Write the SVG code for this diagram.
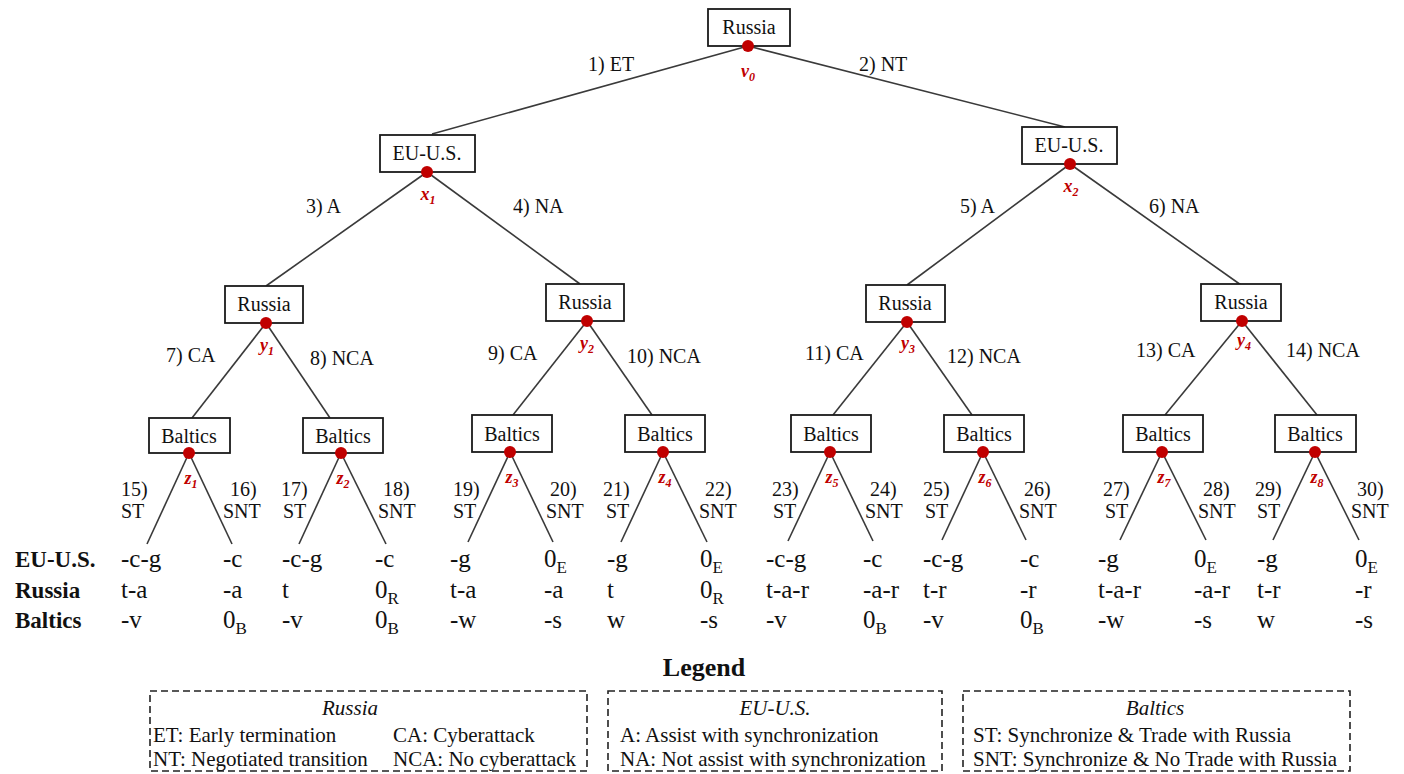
<svg xmlns="http://www.w3.org/2000/svg" width="1404" height="774" viewBox="0 0 1404 774">
<style>
.box{fill:#fff;stroke:#1a1a1a;stroke-width:1.8}
.nt{text-anchor:middle;fill:#111}
.dot{fill:#c00000}
.lab{font-style:italic;font-weight:bold;fill:#c00000;text-anchor:middle}
.edge{stroke:#3a3a3a;stroke-width:1.6;fill:none}
.legt{font-style:italic;text-anchor:middle}
.legbox{fill:none;stroke:#222;stroke-width:1.6;stroke-dasharray:7 4}
</style>
<rect width="1404" height="774" fill="#fff"/>
<g id="connectors">
<line class="edge" x1="748" y1="46" x2="432" y2="134"/>
<line class="edge" x1="748" y1="46" x2="1065" y2="127"/>
<line class="edge" x1="427" y1="172" x2="266" y2="286"/>
<line class="edge" x1="427" y1="172" x2="580" y2="284"/>
<line class="edge" x1="1070" y1="164" x2="907" y2="285"/>
<line class="edge" x1="1070" y1="164" x2="1241" y2="285"/>
<line class="edge" x1="266" y1="323" x2="192" y2="418"/>
<line class="edge" x1="266" y1="323" x2="330" y2="418"/>
<line class="edge" x1="587" y1="321" x2="513" y2="415"/>
<line class="edge" x1="587" y1="321" x2="652" y2="415"/>
<line class="edge" x1="907" y1="322" x2="833" y2="415"/>
<line class="edge" x1="907" y1="322" x2="972" y2="415"/>
<line class="edge" x1="1242" y1="321" x2="1165" y2="415"/>
<line class="edge" x1="1242" y1="321" x2="1317" y2="415"/>
<line class="edge" x1="189" y1="453" x2="147" y2="544"/>
<line class="edge" x1="189" y1="453" x2="232" y2="544"/>
<line class="edge" x1="341" y1="453" x2="299" y2="544"/>
<line class="edge" x1="341" y1="453" x2="386" y2="544"/>
<line class="edge" x1="510" y1="452" x2="468" y2="542"/>
<line class="edge" x1="510" y1="452" x2="553" y2="542"/>
<line class="edge" x1="663" y1="452" x2="621" y2="542"/>
<line class="edge" x1="663" y1="452" x2="707" y2="542"/>
<line class="edge" x1="830" y1="452" x2="788" y2="541"/>
<line class="edge" x1="830" y1="452" x2="873" y2="541"/>
<line class="edge" x1="983" y1="452" x2="942" y2="540"/>
<line class="edge" x1="983" y1="452" x2="1026" y2="540"/>
<line class="edge" x1="1162" y1="452" x2="1120" y2="540"/>
<line class="edge" x1="1162" y1="452" x2="1206" y2="540"/>
<line class="edge" x1="1315" y1="452" x2="1273" y2="540"/>
<line class="edge" x1="1315" y1="452" x2="1359" y2="540"/>
<text font-family="Liberation Serif" font-size="20" fill="#111" x="588" y="71">1) ET</text>
<text font-family="Liberation Serif" font-size="20" fill="#111" x="859" y="71">2) NT</text>
<text font-family="Liberation Serif" font-size="20" fill="#111" x="306" y="213">3) A</text>
<text font-family="Liberation Serif" font-size="20" fill="#111" x="513" y="213">4) NA</text>
<text font-family="Liberation Serif" font-size="20" fill="#111" x="960" y="213">5) A</text>
<text font-family="Liberation Serif" font-size="20" fill="#111" x="1149" y="213">6) NA</text>
<text font-family="Liberation Serif" font-size="20" fill="#111" x="166" y="362">7) CA</text>
<text font-family="Liberation Serif" font-size="20" fill="#111" x="310" y="365">8) NCA</text>
<text font-family="Liberation Serif" font-size="20" fill="#111" x="488" y="360">9) CA</text>
<text font-family="Liberation Serif" font-size="20" fill="#111" x="627" y="363">10) NCA</text>
<text font-family="Liberation Serif" font-size="20" fill="#111" x="805" y="360">11) CA</text>
<text font-family="Liberation Serif" font-size="20" fill="#111" x="947" y="363">12) NCA</text>
<text font-family="Liberation Serif" font-size="20" fill="#111" x="1136" y="357">13) CA</text>
<text font-family="Liberation Serif" font-size="20" fill="#111" x="1286" y="357">14) NCA</text>
<text font-family="Liberation Serif" font-size="20" fill="#111" x="121" y="496">15)</text><text font-family="Liberation Serif" font-size="20" fill="#111" x="121" y="518">ST</text>
<text font-family="Liberation Serif" font-size="20" fill="#111" x="230" y="496">16)</text><text font-family="Liberation Serif" font-size="20" fill="#111" x="223" y="518">SNT</text>
<text font-family="Liberation Serif" font-size="20" fill="#111" x="281" y="496">17)</text><text font-family="Liberation Serif" font-size="20" fill="#111" x="283" y="518">ST</text>
<text font-family="Liberation Serif" font-size="20" fill="#111" x="383" y="496">18)</text><text font-family="Liberation Serif" font-size="20" fill="#111" x="378" y="518">SNT</text>
<text font-family="Liberation Serif" font-size="20" fill="#111" x="453" y="496">19)</text><text font-family="Liberation Serif" font-size="20" fill="#111" x="453" y="518">ST</text>
<text font-family="Liberation Serif" font-size="20" fill="#111" x="550" y="496">20)</text><text font-family="Liberation Serif" font-size="20" fill="#111" x="546" y="518">SNT</text>
<text font-family="Liberation Serif" font-size="20" fill="#111" x="603" y="496">21)</text><text font-family="Liberation Serif" font-size="20" fill="#111" x="606" y="518">ST</text>
<text font-family="Liberation Serif" font-size="20" fill="#111" x="705" y="496">22)</text><text font-family="Liberation Serif" font-size="20" fill="#111" x="699" y="518">SNT</text>
<text font-family="Liberation Serif" font-size="20" fill="#111" x="772" y="496">23)</text><text font-family="Liberation Serif" font-size="20" fill="#111" x="773" y="518">ST</text>
<text font-family="Liberation Serif" font-size="20" fill="#111" x="870" y="496">24)</text><text font-family="Liberation Serif" font-size="20" fill="#111" x="865" y="518">SNT</text>
<text font-family="Liberation Serif" font-size="20" fill="#111" x="923" y="496">25)</text><text font-family="Liberation Serif" font-size="20" fill="#111" x="925" y="518">ST</text>
<text font-family="Liberation Serif" font-size="20" fill="#111" x="1024" y="496">26)</text><text font-family="Liberation Serif" font-size="20" fill="#111" x="1019" y="518">SNT</text>
<text font-family="Liberation Serif" font-size="20" fill="#111" x="1103" y="496">27)</text><text font-family="Liberation Serif" font-size="20" fill="#111" x="1105" y="518">ST</text>
<text font-family="Liberation Serif" font-size="20" fill="#111" x="1203" y="496">28)</text><text font-family="Liberation Serif" font-size="20" fill="#111" x="1198" y="518">SNT</text>
<text font-family="Liberation Serif" font-size="20" fill="#111" x="1255" y="496">29)</text><text font-family="Liberation Serif" font-size="20" fill="#111" x="1257" y="518">ST</text>
<text font-family="Liberation Serif" font-size="20" fill="#111" x="1357" y="496">30)</text><text font-family="Liberation Serif" font-size="20" fill="#111" x="1351" y="518">SNT</text>
</g>
<g id="node-v0"><rect class="box" x="708" y="9" width="82" height="37"/><text class="nt" font-family="Liberation Serif" font-size="20" x="749" y="34">Russia</text><circle class="dot" cx="748" cy="46" r="6"/><text class="lab" font-family="Liberation Serif" font-size="18" x="748" y="77">v<tspan font-size="12" dy="4">0</tspan></text></g>
<g id="node-x1"><rect class="box" x="380" y="135" width="95" height="37"/><text class="nt" font-family="Liberation Serif" font-size="20" x="427" y="160">EU-U.S.</text><circle class="dot" cx="427" cy="172" r="6"/><text class="lab" font-family="Liberation Serif" font-size="18" x="428" y="200">x<tspan font-size="12" dy="4">1</tspan></text></g>
<g id="node-x2"><rect class="box" x="1022" y="127" width="95" height="37"/><text class="nt" font-family="Liberation Serif" font-size="20" x="1069" y="152">EU-U.S.</text><circle class="dot" cx="1070" cy="164" r="6"/><text class="lab" font-family="Liberation Serif" font-size="18" x="1071" y="192">x<tspan font-size="12" dy="4">2</tspan></text></g>
<g id="node-y1"><rect class="box" x="225" y="286" width="78" height="37"/><text class="nt" font-family="Liberation Serif" font-size="20" x="264" y="311">Russia</text><circle class="dot" cx="266" cy="323" r="6"/><text class="lab" font-family="Liberation Serif" font-size="18" x="267" y="351">y<tspan font-size="12" dy="4">1</tspan></text></g>
<g id="node-y2"><rect class="box" x="546" y="284" width="78" height="37"/><text class="nt" font-family="Liberation Serif" font-size="20" x="585" y="309">Russia</text><circle class="dot" cx="587" cy="321" r="6"/><text class="lab" font-family="Liberation Serif" font-size="18" x="587" y="349">y<tspan font-size="12" dy="4">2</tspan></text></g>
<g id="node-y3"><rect class="box" x="866" y="285" width="79" height="37"/><text class="nt" font-family="Liberation Serif" font-size="20" x="905" y="310">Russia</text><circle class="dot" cx="907" cy="322" r="6"/><text class="lab" font-family="Liberation Serif" font-size="18" x="908" y="349">y<tspan font-size="12" dy="4">3</tspan></text></g>
<g id="node-y4"><rect class="box" x="1201" y="284" width="80" height="37"/><text class="nt" font-family="Liberation Serif" font-size="20" x="1241" y="309">Russia</text><circle class="dot" cx="1242" cy="321" r="6"/><text class="lab" font-family="Liberation Serif" font-size="18" x="1244" y="346">y<tspan font-size="12" dy="4">4</tspan></text></g>
<g id="node-z1"><rect class="box" x="149" y="418" width="81" height="35"/><text class="nt" font-family="Liberation Serif" font-size="20" x="189" y="443">Baltics</text><circle class="dot" cx="189" cy="453" r="6"/><text class="lab" font-family="Liberation Serif" font-size="18" x="191" y="484">z<tspan font-size="12" dy="4">1</tspan></text></g>
<g id="node-z2"><rect class="box" x="303" y="418" width="80" height="35"/><text class="nt" font-family="Liberation Serif" font-size="20" x="343" y="443">Baltics</text><circle class="dot" cx="341" cy="453" r="6"/><text class="lab" font-family="Liberation Serif" font-size="18" x="343" y="484">z<tspan font-size="12" dy="4">2</tspan></text></g>
<g id="node-z3"><rect class="box" x="472" y="415" width="80" height="37"/><text class="nt" font-family="Liberation Serif" font-size="20" x="512" y="441">Baltics</text><circle class="dot" cx="510" cy="452" r="6"/><text class="lab" font-family="Liberation Serif" font-size="18" x="512" y="483">z<tspan font-size="12" dy="4">3</tspan></text></g>
<g id="node-z4"><rect class="box" x="625" y="415" width="80" height="37"/><text class="nt" font-family="Liberation Serif" font-size="20" x="665" y="441">Baltics</text><circle class="dot" cx="663" cy="452" r="6"/><text class="lab" font-family="Liberation Serif" font-size="18" x="665" y="483">z<tspan font-size="12" dy="4">4</tspan></text></g>
<g id="node-z5"><rect class="box" x="791" y="415" width="80" height="37"/><text class="nt" font-family="Liberation Serif" font-size="20" x="831" y="441">Baltics</text><circle class="dot" cx="830" cy="452" r="6"/><text class="lab" font-family="Liberation Serif" font-size="18" x="832" y="483">z<tspan font-size="12" dy="4">5</tspan></text></g>
<g id="node-z6"><rect class="box" x="944" y="415" width="80" height="37"/><text class="nt" font-family="Liberation Serif" font-size="20" x="984" y="441">Baltics</text><circle class="dot" cx="983" cy="452" r="6"/><text class="lab" font-family="Liberation Serif" font-size="18" x="985" y="483">z<tspan font-size="12" dy="4">6</tspan></text></g>
<g id="node-z7"><rect class="box" x="1123" y="415" width="80" height="37"/><text class="nt" font-family="Liberation Serif" font-size="20" x="1163" y="441">Baltics</text><circle class="dot" cx="1162" cy="452" r="6"/><text class="lab" font-family="Liberation Serif" font-size="18" x="1164" y="483">z<tspan font-size="12" dy="4">7</tspan></text></g>
<g id="node-z8"><rect class="box" x="1275" y="415" width="81" height="37"/><text class="nt" font-family="Liberation Serif" font-size="20" x="1315" y="441">Baltics</text><circle class="dot" cx="1315" cy="452" r="6"/><text class="lab" font-family="Liberation Serif" font-size="18" x="1317" y="483">z<tspan font-size="12" dy="4">8</tspan></text></g>
<g id="payoff-rows">
<text font-family="Liberation Serif" font-size="23" font-weight="bold" fill="#111" x="15" y="567">EU-U.S.</text>
<text font-family="Liberation Serif" font-size="23" font-weight="bold" fill="#111" x="15" y="598">Russia</text>
<text font-family="Liberation Serif" font-size="23" font-weight="bold" fill="#111" x="15" y="628">Baltics</text>
</g>
<g id="payoffs" fill="#111">
<text font-family="Liberation Serif" font-size="25" x="121" y="567">-c-g</text><text font-family="Liberation Serif" font-size="25" x="121" y="598">t-a</text><text font-family="Liberation Serif" font-size="25" x="121" y="628">-v</text>
<text font-family="Liberation Serif" font-size="25" x="223" y="567">-c</text><text font-family="Liberation Serif" font-size="25" x="223" y="598">-a</text><text font-family="Liberation Serif" font-size="25" x="223" y="628">0<tspan font-size="17" dy="6">B</tspan></text>
<text font-family="Liberation Serif" font-size="25" x="282" y="567">-c-g</text><text font-family="Liberation Serif" font-size="25" x="282" y="598">t</text><text font-family="Liberation Serif" font-size="25" x="282" y="628">-v</text>
<text font-family="Liberation Serif" font-size="25" x="375" y="567">-c</text><text font-family="Liberation Serif" font-size="25" x="375" y="598">0<tspan font-size="17" dy="6">R</tspan></text><text font-family="Liberation Serif" font-size="25" x="375" y="628">0<tspan font-size="17" dy="6">B</tspan></text>
<text font-family="Liberation Serif" font-size="25" x="450" y="567">-g</text><text font-family="Liberation Serif" font-size="25" x="450" y="598">t-a</text><text font-family="Liberation Serif" font-size="25" x="450" y="628">-w</text>
<text font-family="Liberation Serif" font-size="25" x="544" y="567">0<tspan font-size="17" dy="6">E</tspan></text><text font-family="Liberation Serif" font-size="25" x="544" y="598">-a</text><text font-family="Liberation Serif" font-size="25" x="544" y="628">-s</text>
<text font-family="Liberation Serif" font-size="25" x="607" y="567">-g</text><text font-family="Liberation Serif" font-size="25" x="607" y="598">t</text><text font-family="Liberation Serif" font-size="25" x="607" y="628">w</text>
<text font-family="Liberation Serif" font-size="25" x="700" y="567">0<tspan font-size="17" dy="6">E</tspan></text><text font-family="Liberation Serif" font-size="25" x="700" y="598">0<tspan font-size="17" dy="6">R</tspan></text><text font-family="Liberation Serif" font-size="25" x="700" y="628">-s</text>
<text font-family="Liberation Serif" font-size="25" x="766" y="567">-c-g</text><text font-family="Liberation Serif" font-size="25" x="766" y="598">t-a-r</text><text font-family="Liberation Serif" font-size="25" x="766" y="628">-v</text>
<text font-family="Liberation Serif" font-size="25" x="863" y="567">-c</text><text font-family="Liberation Serif" font-size="25" x="863" y="598">-a-r</text><text font-family="Liberation Serif" font-size="25" x="863" y="628">0<tspan font-size="17" dy="6">B</tspan></text>
<text font-family="Liberation Serif" font-size="25" x="923" y="567">-c-g</text><text font-family="Liberation Serif" font-size="25" x="923" y="598">t-r</text><text font-family="Liberation Serif" font-size="25" x="923" y="628">-v</text>
<text font-family="Liberation Serif" font-size="25" x="1020" y="567">-c</text><text font-family="Liberation Serif" font-size="25" x="1020" y="598">-r</text><text font-family="Liberation Serif" font-size="25" x="1020" y="628">0<tspan font-size="17" dy="6">B</tspan></text>
<text font-family="Liberation Serif" font-size="25" x="1098" y="567">-g</text><text font-family="Liberation Serif" font-size="25" x="1098" y="598">t-a-r</text><text font-family="Liberation Serif" font-size="25" x="1098" y="628">-w</text>
<text font-family="Liberation Serif" font-size="25" x="1194" y="567">0<tspan font-size="17" dy="6">E</tspan></text><text font-family="Liberation Serif" font-size="25" x="1194" y="598">-a-r</text><text font-family="Liberation Serif" font-size="25" x="1194" y="628">-s</text>
<text font-family="Liberation Serif" font-size="25" x="1257" y="567">-g</text><text font-family="Liberation Serif" font-size="25" x="1257" y="598">t-r</text><text font-family="Liberation Serif" font-size="25" x="1257" y="628">w</text>
<text font-family="Liberation Serif" font-size="25" x="1355" y="567">0<tspan font-size="17" dy="6">E</tspan></text><text font-family="Liberation Serif" font-size="25" x="1355" y="598">-r</text><text font-family="Liberation Serif" font-size="25" x="1355" y="628">-s</text>
</g>
<g id="legend" fill="#111">
<text font-family="Liberation Serif" x="704" y="676" font-size="26" font-weight="bold" text-anchor="middle">Legend</text>
<rect class="legbox" x="150" y="691" width="437" height="80"/>
<text class="legt" font-family="Liberation Serif" font-size="21" x="350" y="715">Russia</text>
<text font-family="Liberation Serif" font-size="21" x="153" y="742">ET: Early termination</text>
<text font-family="Liberation Serif" font-size="21" x="393" y="742">CA: Cyberattack</text>
<text font-family="Liberation Serif" font-size="21" x="153" y="766">NT: Negotiated transition</text>
<text font-family="Liberation Serif" font-size="21" x="393" y="766">NCA: No cyberattack</text>
<rect class="legbox" x="608" y="691" width="334" height="80"/>
<text class="legt" font-family="Liberation Serif" font-size="21" x="775" y="715">EU-U.S.</text>
<text font-family="Liberation Serif" font-size="21" x="620" y="742">A: Assist with synchronization</text>
<text font-family="Liberation Serif" font-size="21" x="620" y="766">NA: Not assist with synchronization</text>
<rect class="legbox" x="963" y="691" width="387" height="80"/>
<text class="legt" font-family="Liberation Serif" font-size="21" x="1155" y="715">Baltics</text>
<text font-family="Liberation Serif" font-size="21" x="973" y="742">ST: Synchronize &amp; Trade with Russia</text>
<text font-family="Liberation Serif" font-size="21" x="973" y="766">SNT: Synchronize &amp; No Trade with Russia</text>
</g>
</svg>
